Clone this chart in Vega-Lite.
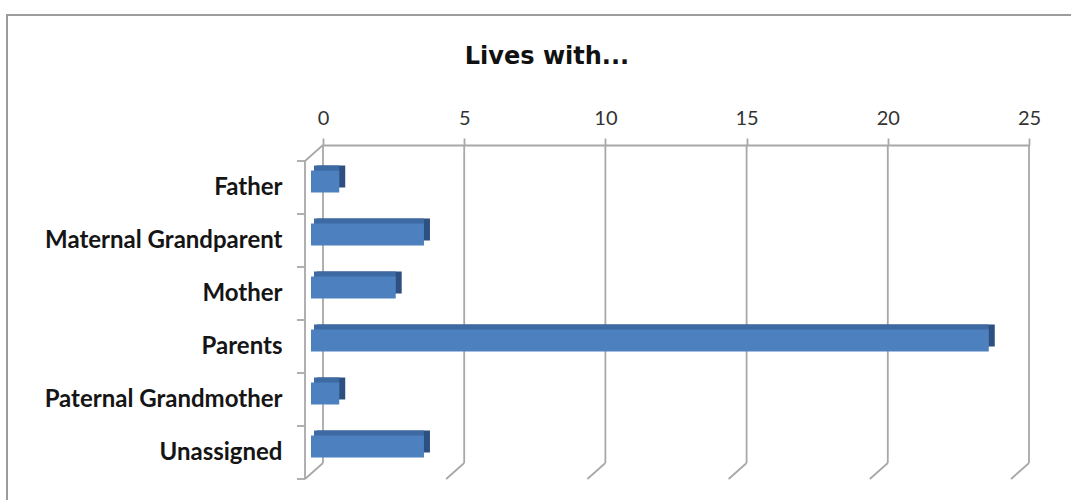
{
  "$schema": "https://vega.github.io/schema/vega-lite/v6.json",
  "autosize": {"type": "none"},
  "width": 1064,
  "height": 485,
  "padding": {"left": 7, "top": 15, "right": 0, "bottom": 0},
  "background": "white",
  "config": {
    "font": "Lato",
    "view": {"stroke": "#9C9C9C", "strokeWidth": 2, "strokeDash": [1064, 1549, 485, 1]}
  },
  "title": {
    "text": "Lives with...",
    "frame": "group",
    "anchor": "middle",
    "baseline": "alphabetic",
    "offset": 0,
    "dx": 8,
    "dy": 73,
    "font": "DejaVu Sans",
    "fontSize": 24,
    "fontWeight": "bold",
    "color": "#111111"
  },
  "datasets": {
    "counts": [
      {"cat": "Father", "count": 1},
      {"cat": "Maternal Grandparent", "count": 4},
      {"cat": "Mother", "count": 3},
      {"cat": "Parents", "count": 24},
      {"cat": "Paternal Grandmother", "count": 1},
      {"cat": "Unassigned", "count": 4}
    ],
    "grid": [{"v": 0}, {"v": 5}, {"v": 10}, {"v": 15}, {"v": 20}, {"v": 25}],
    "edges": [
      {"v": 0, "b": 6}, {"v": 5, "b": 6}, {"v": 10, "b": 6}, {"v": 15, "b": 6},
      {"v": 20, "b": 6}, {"v": 25, "b": 6}, {"v": 0, "b": 0}
    ],
    "wall": [{"b": 0}, {"b": 1}, {"b": 2}, {"b": 3}, {"b": 4}, {"b": 5}, {"b": 6}]
  },
  "resolve": {
    "scale": {"y": "independent"},
    "axis": {"x": "independent", "y": "independent"}
  },
  "layer": [
    {
      "layer": [
        {
          "data": {"name": "grid"},
          "mark": {"type": "rule", "color": "#A8A8A8", "strokeWidth": 1.8},
          "encoding": {
            "x": {"field": "v", "type": "quantitative", "scale": {"domain": [0, 25], "range": [316, 1022], "nice": false, "zero": false}, "axis": null},
            "y": {"datum": 0, "type": "quantitative", "scale": {"domain": [0, 6], "range": [130, 448], "nice": false, "zero": false}, "axis": null},
            "y2": {"datum": 6}
          }
        },
        {
          "data": {"name": "edges"},
          "mark": {"type": "rule", "color": "#A8A8A8", "strokeWidth": 1.8, "x2Offset": -18, "y2Offset": 16},
          "encoding": {
            "x": {"field": "v", "type": "quantitative", "axis": null},
            "x2": {"field": "v"},
            "y": {"field": "b", "type": "quantitative", "axis": null},
            "y2": {"field": "b"}
          }
        },
        {
          "data": {"values": [{"b0": 0, "b1": 6}]},
          "mark": {"type": "rule", "color": "#A8A8A8", "strokeWidth": 1.8, "xOffset": -18, "x2Offset": -18, "yOffset": 16, "y2Offset": 16},
          "encoding": {
            "x": {"datum": 0, "type": "quantitative", "axis": null},
            "x2": {"datum": 0},
            "y": {"field": "b0", "type": "quantitative", "axis": null},
            "y2": {"field": "b1"}
          }
        },
        {
          "data": {"name": "wall"},
          "mark": {"type": "rule", "color": "#A8A8A8", "strokeWidth": 1.8, "xOffset": -18, "x2Offset": -26, "yOffset": 16, "y2Offset": 16},
          "encoding": {
            "x": {"datum": 0, "type": "quantitative", "axis": null},
            "x2": {"datum": 0},
            "y": {"field": "b", "type": "quantitative", "axis": null},
            "y2": {"field": "b"}
          }
        }
      ]
    },
    {
      "data": {"name": "counts"},
      "encoding": {
        "y": {
          "field": "cat",
          "type": "nominal",
          "sort": null,
          "scale": {"range": [130, 448], "paddingInner": 0.585, "paddingOuter": 0.2925},
          "axis": {
            "orient": "left",
            "title": null,
            "offset": -298,
            "domain": false,
            "ticks": false,
            "tickSize": 0,
            "labelPadding": 23,
            "labelOffset": 16,
            "labelFont": "Lato",
            "labelFontSize": 24,
            "labelFontWeight": "bold",
            "labelColor": "#151515",
            "labelLimit": 400
          }
        },
        "x": {
          "field": "count",
          "type": "quantitative",
          "scale": {"domain": [0, 25], "range": [316, 1022], "nice": false, "zero": false},
          "axis": {
            "orient": "top",
            "title": null,
            "offset": -130,
            "values": [0, 5, 10, 15, 20, 25],
            "grid": false,
            "domain": true,
            "domainColor": "#A8A8A8",
            "domainWidth": 1.8,
            "ticks": true,
            "tickSize": 7,
            "tickColor": "#A8A8A8",
            "tickWidth": 1.8,
            "labelPadding": 10,
            "labelFont": "Lato",
            "labelFontSize": 20,
            "labelColor": "#333333",
            "labelFlush": false
          }
        },
        "x2": {"datum": 0}
      },
      "layer": [
        {"mark": {"type": "bar", "color": "#2D5080", "xOffset": -6, "x2Offset": -6, "yOffset": 5, "y2Offset": 5}},
        {"mark": {"type": "bar", "color": "#3D6AA3", "xOffset": -12, "x2Offset": -9, "yOffset": 5, "y2Offset": 5}},
        {"mark": {"type": "bar", "color": "#4D80BE", "xOffset": -12, "x2Offset": -12, "yOffset": 10, "y2Offset": 10}}
      ]
    }
  ]
}
